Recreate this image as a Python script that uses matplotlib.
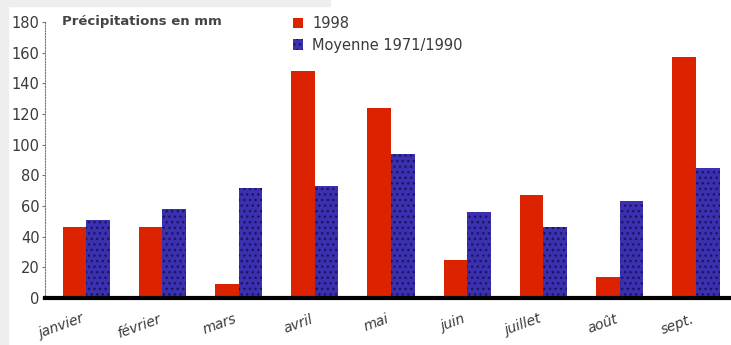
import matplotlib.pyplot as plt
import matplotlib.patches as mpatches
import numpy as np

# monthly rainfall, mm
months = ["janvier", "février", "mars", "avril", "mai", "juin", "juillet", "août", "sept."]
rain_1998 = [46, 46, 9, 148, 124, 25, 67, 14, 157]
rain_avg = [51, 58, 72, 73, 94, 56, 46, 63, 85]
y_ticks = [0, 20, 40, 60, 80, 100, 120, 140, 160, 180]

red = "#dd2200"
blue = "#3b30b0"
txt = "#3a3a3a"

fig = plt.figure(figsize=(7.31, 3.45), dpi=100)
# light grey frame strips on the left and top edges
fig.patches.append(mpatches.Rectangle((0, 0), 8 / 731, 1, transform=fig.transFigure,
                                      color="#eeeeee", zorder=0))
fig.patches.append(mpatches.Rectangle((0, 1 - 6 / 345), 330 / 731, 6 / 345,
                                      transform=fig.transFigure, color="#eeeeee", zorder=0))

ax = fig.add_axes([45 / 731, 1 - 298 / 345, 1 - 45 / 731, 276 / 345])
ax.patch.set_alpha(0)

x = np.arange(len(months))
w = 0.31
b1 = ax.bar(x - w / 2, rain_1998, w, color=red, linewidth=0)
plt.rcParams["hatch.linewidth"] = 1.0
b2 = ax.bar(x + w / 2, rain_avg, w, facecolor=blue, edgecolor="#1a1560",
            hatch="...", linewidth=0)

ax.set_xlim(-0.54, 8.46)
ax.set_ylim(0, 180)
ax.axhline(0, color="black", linewidth=3, zorder=5, clip_on=False)

for s in ["top", "right", "bottom"]:
    ax.spines[s].set_visible(False)
ax.spines["left"].set_linestyle((0, (1, 1.5)))
ax.spines["left"].set_color("#777777")
ax.spines["left"].set_linewidth(0.8)

ax.set_yticks(y_ticks)
ax.set_yticklabels([str(v) for v in y_ticks], fontsize=10.5, color=txt)
ax.tick_params(axis="y", length=2, width=0.8, color="#777777", pad=2)

ax.set_xticks(x)
ax.set_xticklabels(months, rotation=20, ha="right", fontsize=10,
                   style="italic", color=txt)
ax.tick_params(axis="x", length=0, pad=10)

fig.text(62 / 731, 1 - 22 / 345, "Précipitations en mm", fontsize=9.5,
         fontweight="bold", color="#444444", va="center")

ax.legend((b1[0], b2[0]), ("1998", "Moyenne 1971/1990"), fontsize=10.5,
          frameon=False, handlelength=0.7, handleheight=0.7, handletextpad=0.6,
          labelspacing=0.45, labelcolor=txt,
          loc="upper left", bbox_to_anchor=(280 / 731, 1 - 3 / 345),
          bbox_transform=fig.transFigure)

fig.savefig("out.png", dpi=100)
